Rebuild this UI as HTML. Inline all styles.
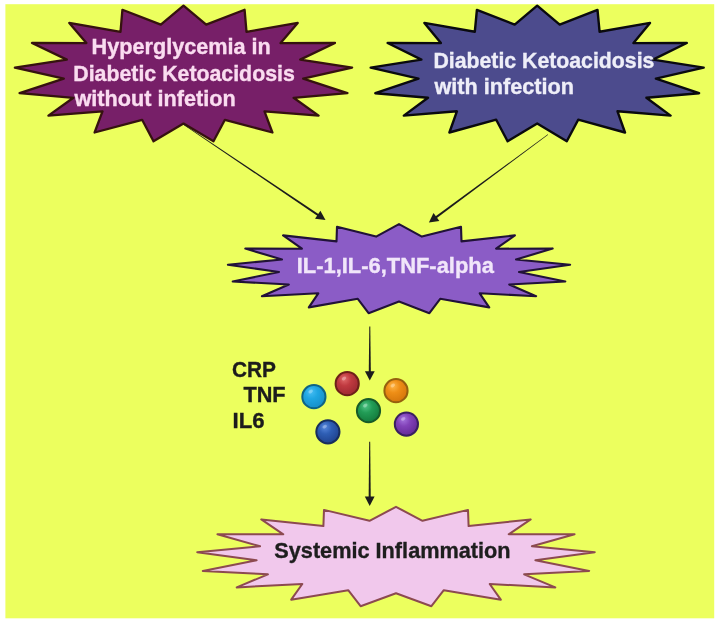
<!DOCTYPE html>
<html><head><meta charset="utf-8"><title>Diagram</title>
<style>
html,body{margin:0;padding:0;background:#fff;}
body{width:720px;height:624px;overflow:hidden;font-family:"Liberation Sans",sans-serif;}
svg{display:block;filter:blur(0.45px);}
</style></head><body>
<svg width="720" height="624" viewBox="0 0 720 624">
<defs><radialGradient id="gc" cx="0.42" cy="0.36" r="0.62" fx="0.36" fy="0.28"><stop offset="0" stop-color="#48bef4"/><stop offset="0.45" stop-color="#1fa6e2"/><stop offset="1" stop-color="#1790ca"/></radialGradient><radialGradient id="gr" cx="0.42" cy="0.36" r="0.62" fx="0.36" fy="0.28"><stop offset="0" stop-color="#e26c6c"/><stop offset="0.45" stop-color="#c03a40"/><stop offset="1" stop-color="#a02a32"/></radialGradient><radialGradient id="go" cx="0.42" cy="0.36" r="0.62" fx="0.36" fy="0.28"><stop offset="0" stop-color="#ffb648"/><stop offset="0.45" stop-color="#ee8e16"/><stop offset="1" stop-color="#d6780c"/></radialGradient><radialGradient id="gg" cx="0.42" cy="0.36" r="0.62" fx="0.36" fy="0.28"><stop offset="0" stop-color="#52c688"/><stop offset="0.45" stop-color="#229c56"/><stop offset="1" stop-color="#147e3e"/></radialGradient><radialGradient id="gb" cx="0.42" cy="0.36" r="0.62" fx="0.36" fy="0.28"><stop offset="0" stop-color="#5a8ade"/><stop offset="0.45" stop-color="#2e5eb4"/><stop offset="1" stop-color="#204490"/></radialGradient><radialGradient id="gp" cx="0.42" cy="0.36" r="0.62" fx="0.36" fy="0.28"><stop offset="0" stop-color="#a676de"/><stop offset="0.45" stop-color="#8242b8"/><stop offset="1" stop-color="#662c98"/></radialGradient></defs>
<rect x="0" y="0" width="720" height="624" fill="#ffffff"/>
<rect x="5.4" y="4.2" width="708.8" height="614.1" fill="#ecff5e"/>
<polygon points="183.5,5.7 206.2,24.6 244.6,9.8 246.5,31.8 297.7,22.9 280.6,43.1 335.0,43.0 300.2,59.6 352.1,67.6 303.2,78.7 347.4,93.2 293.6,97.8 318.6,115.6 264.5,111.3 272.4,132.5 224.9,119.8 213.5,141.3 183.5,123.6 153.5,141.3 142.1,119.8 94.6,132.5 102.5,111.3 48.4,115.6 73.4,97.8 19.6,93.2 63.8,78.7 14.9,67.6 66.8,59.6 32.0,43.0 86.4,43.1 69.3,22.9 120.5,31.8 122.4,9.8 160.8,24.6" fill="#771f68" stroke="#35120f" stroke-width="2.3" stroke-linejoin="round"/><polygon points="537.2,5.7 559.7,24.6 597.5,9.9 599.6,31.8 650.0,22.9 633.5,43.1 686.8,43.0 653.0,59.6 703.7,67.6 655.9,78.7 699.1,93.2 646.4,97.8 670.6,115.6 617.5,111.3 625.0,132.5 578.2,119.7 566.8,141.3 537.2,123.5 507.6,141.3 496.2,119.7 449.4,132.5 456.9,111.3 403.8,115.6 428.0,97.8 375.3,93.2 418.5,78.7 370.7,67.6 421.4,59.6 387.6,43.0 440.9,43.1 424.4,22.9 474.8,31.8 476.9,9.9 514.7,24.6" fill="#4c4b8d" stroke="#0a0a0e" stroke-width="2.4" stroke-linejoin="round"/><polygon points="399.0,224.1 421.9,236.6 461.0,226.8 461.5,241.4 514.9,235.4 496.1,248.7 552.7,248.6 516.0,259.5 570.1,264.7 519.0,272.0 565.3,281.5 509.2,284.5 536.1,296.2 479.7,293.3 489.2,307.4 440.2,298.8 429.4,313.2 399.0,301.5 368.6,313.2 357.8,298.8 308.8,307.4 318.3,293.3 261.9,296.2 288.8,284.5 232.7,281.5 279.0,272.0 227.9,264.7 282.0,259.5 245.3,248.6 301.9,248.7 283.1,235.4 336.5,241.4 337.0,226.8 376.1,236.6" fill="#8b5cc6" stroke="#211238" stroke-width="2.1" stroke-linejoin="round"/><polygon points="396.0,506.8 422.5,520.8 468.0,509.9 468.6,526.1 530.7,519.4 508.7,534.3 574.6,534.2 531.9,546.3 594.8,552.2 535.4,560.3 589.2,570.9 524.1,574.3 555.3,587.4 489.7,584.0 500.8,599.7 443.8,590.2 431.4,606.2 396.0,593.2 360.6,606.2 348.2,590.2 291.2,599.7 302.3,584.0 236.7,587.4 267.9,574.3 202.8,570.9 256.6,560.3 197.2,552.2 260.1,546.3 217.4,534.2 283.3,534.3 261.3,519.4 323.4,526.1 324.0,509.9 369.5,520.8" fill="#f1c8ec" stroke="#8c4a50" stroke-width="2.0" stroke-linejoin="round"/>
<polygon points="183.36,124.71 318.39,216.42 319.50,214.76 183.64,124.29" fill="#1c1c1c"/><polygon points="325.5,220.0 315.0,218.8 320.4,210.7" fill="#1c1c1c"/>
<polygon points="547.85,134.30 434.66,217.10 435.85,218.71 548.15,134.70" fill="#1c1c1c"/><polygon points="428.9,222.6 433.5,213.1 439.4,220.9" fill="#1c1c1c"/>
<polygon points="369.30,326.50 368.75,372.70 370.85,372.70 370.30,326.50" fill="#1c1c1c"/><polygon points="369.8,380.6 364.9,371.2 374.7,371.2" fill="#1c1c1c"/>
<polygon points="369.20,441.70 368.65,498.00 370.75,498.00 370.20,441.70" fill="#1c1c1c"/><polygon points="369.7,505.9 364.8,496.5 374.6,496.5" fill="#1c1c1c"/>
<circle cx="313.9" cy="396.7" r="11.6" fill="url(#gc)" stroke="#0f6484" stroke-width="2"/><ellipse cx="310.7" cy="391.5" rx="2.4" ry="1.6" fill="#fff" opacity="0.3" transform="rotate(-30 310.7 391.5)"/><circle cx="347.2" cy="383.7" r="11.6" fill="url(#gr)" stroke="#6e2018" stroke-width="2"/><ellipse cx="344.0" cy="378.5" rx="2.4" ry="1.6" fill="#fff" opacity="0.3" transform="rotate(-30 344.0 378.5)"/><circle cx="396.0" cy="390.7" r="11.6" fill="url(#go)" stroke="#96600e" stroke-width="2"/><ellipse cx="392.8" cy="385.5" rx="2.4" ry="1.6" fill="#fff" opacity="0.3" transform="rotate(-30 392.8 385.5)"/><circle cx="368.5" cy="410.7" r="11.6" fill="url(#gg)" stroke="#185a28" stroke-width="2"/><ellipse cx="365.3" cy="405.5" rx="2.4" ry="1.6" fill="#fff" opacity="0.3" transform="rotate(-30 365.3 405.5)"/><circle cx="327.9" cy="431.8" r="11.6" fill="url(#gb)" stroke="#182e5c" stroke-width="2"/><ellipse cx="324.7" cy="426.6" rx="2.4" ry="1.6" fill="#fff" opacity="0.3" transform="rotate(-30 324.7 426.6)"/><circle cx="406.4" cy="424.1" r="11.6" fill="url(#gp)" stroke="#3a2060" stroke-width="2"/><ellipse cx="403.2" cy="418.90000000000003" rx="2.4" ry="1.6" fill="#fff" opacity="0.3" transform="rotate(-30 403.2 418.90000000000003)"/>
<g font-family="'Liberation Sans', sans-serif" font-weight="bold" font-size="21.5" stroke-width="0.35">
<text x="91.6" y="53.6" fill="#fadcf0" stroke="#fadcf0" textLength="179.2" lengthAdjust="spacingAndGlyphs">Hyperglycemia in</text>
<text x="73.3" y="80.5" fill="#fadcf0" stroke="#fadcf0" textLength="221.5" lengthAdjust="spacingAndGlyphs">Diabetic Ketoacidosis</text>
<text x="74.5" y="105.8" fill="#fadcf0" stroke="#fadcf0" textLength="161.2" lengthAdjust="spacingAndGlyphs">without infetion</text>
<text x="433.4" y="67.5" fill="#eeeef8" stroke="#eeeef8" textLength="221.0" lengthAdjust="spacingAndGlyphs">Diabetic Ketoacidosis</text>
<text x="434.4" y="93.6" fill="#eeeef8" stroke="#eeeef8" textLength="139.6" lengthAdjust="spacingAndGlyphs">with infection</text>
<text x="296.7" y="273.1" fill="#f1e6fa" stroke="#f1e6fa" textLength="197.2" lengthAdjust="spacingAndGlyphs" font-size="22">IL-1,IL-6,TNF-alpha</text>
<text x="232" y="376.6" fill="#1c1c1c" stroke="#1c1c1c" textLength="44" lengthAdjust="spacingAndGlyphs" font-size="22">CRP</text>
<text x="243.4" y="402.3" fill="#1c1c1c" stroke="#1c1c1c" textLength="42.2" lengthAdjust="spacingAndGlyphs" font-size="22">TNF</text>
<text x="232.6" y="428" fill="#1c1c1c" stroke="#1c1c1c" textLength="32" lengthAdjust="spacingAndGlyphs" font-size="22">IL6</text>
<text x="274.3" y="557.9" fill="#1e1e1e" stroke="#1e1e1e" textLength="236.3" lengthAdjust="spacingAndGlyphs" font-size="21.8">Systemic Inflammation</text>
</g>
</svg>
</body></html>
